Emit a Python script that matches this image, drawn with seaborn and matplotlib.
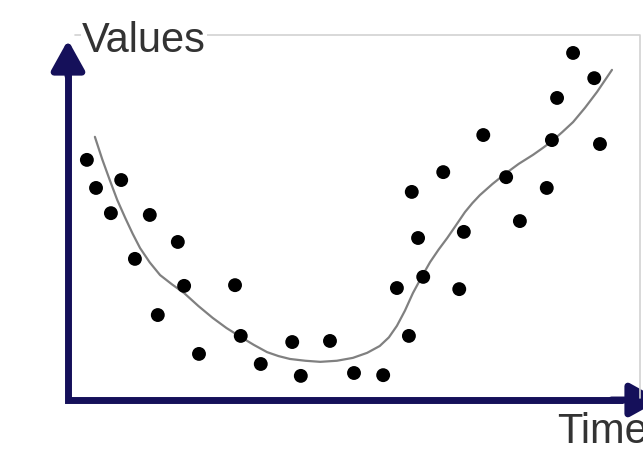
import matplotlib
matplotlib.use('Agg')
import matplotlib.pyplot as plt
from matplotlib.lines import Line2D
import seaborn as sns

# -------------------------------------------------------
# Data (arbitrary units, 0-100)
# -------------------------------------------------------
time_pts  = [3.3, 4.9, 9.3, 7.5, 14.3, 11.7, 19.2, 20.3, 15.7, 29.2,
             22.9, 30.2, 33.7, 39.2, 40.7, 45.8, 50.0, 55.1, 57.5, 59.6,
             60.1, 61.2, 62.1, 65.6, 68.4, 69.2, 72.6, 76.6, 79.0, 83.7,
             84.6, 85.5, 88.3, 92.0, 93.0]
value_pts = [66.7, 58.9, 61.1, 51.9, 51.4, 39.2, 43.9, 31.7, 23.6, 31.9,
             12.8, 17.8, 10.0, 16.1, 6.7, 16.4, 7.5, 6.9, 31.1, 17.8,
             57.8, 45.0, 34.2, 63.3, 30.8, 46.7, 73.6, 61.9, 49.7, 58.9,
             72.2, 83.9, 96.4, 89.4, 71.1]

trend_time  = [4.7, 6.0, 7.3, 8.6, 10.0, 11.3, 12.6, 14.3, 16.1, 18.2,
               20.3, 22.8, 25.3, 27.7, 30.2, 32.5, 34.8, 36.8, 38.8, 41.5,
               44.1, 47.0, 49.8, 52.3, 54.5, 56.1, 57.5, 58.9, 60.3, 61.8,
               63.3, 64.8, 66.3, 67.9, 69.4, 70.7, 72.0, 74.2, 76.4, 78.8,
               81.3, 83.0, 84.6, 86.4, 88.3, 90.4, 92.5, 95.1]
trend_value = [73.1, 66.8, 61.1, 55.6, 50.6, 46.2, 42.2, 38.2, 34.7, 32.1,
               29.7, 26.1, 22.8, 20.0, 17.5, 15.3, 13.3, 12.2, 11.4, 10.9,
               10.6, 10.9, 11.7, 13.1, 15.0, 17.4, 20.6, 24.8, 29.7, 34.1,
               38.3, 41.8, 45.0, 48.7, 52.2, 54.7, 56.9, 60.0, 62.8, 65.6,
               68.1, 70.0, 71.9, 74.4, 77.2, 81.2, 85.6, 91.7]

x_label = 'Time'
y_label = 'Values'

W, H = 643, 450
navy = '#15105a'

sns.set_style('white')
plt.rcParams['font.family'] = ['Liberation Sans', 'DejaVu Sans']

fig = plt.figure(figsize=(W / 100, H / 100), dpi=100)

# light grey frame (top and right edges only)
fig.lines.append(Line2D([75 / W, 640 / W, 640 / W],
                        [1 - 35 / H, 1 - 35 / H, 1 - 398 / H],
                        transform=fig.transFigure, color='#d2d2d2',
                        lw=1.2, zorder=0))

ax = fig.add_axes([68 / W, 1 - 400 / H, 572 / W, 360 / H])
ax.set_facecolor('none')

sns.lineplot(x=trend_time, y=trend_value, sort=False, ax=ax,
             color='#808080', lw=1.6, zorder=2)
sns.scatterplot(x=time_pts, y=value_pts, ax=ax, color='black',
                s=100, edgecolor='none', zorder=3)

ax.set_xlim(0, 100)
ax.set_ylim(0, 100)
ax.set_xticks([]); ax.set_yticks([])
for sp in ax.spines.values():
    sp.set_visible(False)

# axis lines (L shape) and arrow heads
ax.plot([0, 0, 0.97], [0.95, 0, 0], transform=ax.transAxes, color=navy,
        lw=5, solid_joinstyle='miter', solid_capstyle='butt',
        clip_on=False, zorder=4)
arrow_kw = dict(arrowstyle='-|>,head_length=0.9,head_width=0.5',
                color=navy, lw=5, mutation_scale=20, shrinkA=0, shrinkB=0)
ax.annotate('', xy=(0, 1.0), xytext=(0, 0.9), xycoords='axes fraction',
            arrowprops=arrow_kw, annotation_clip=False)
ax.annotate('', xy=(1.035, 0), xytext=(0.95, 0), xycoords='axes fraction',
            arrowprops=arrow_kw, annotation_clip=False)

fig.text(82 / W, 1 - 52 / H, y_label, fontsize=30, color='#333333',
         va='baseline', ha='left',
         bbox=dict(facecolor='white', edgecolor='none', pad=1))
# cut off at the right edge, as in the reference
fig.text(557 / W, 1 - 443 / H, x_label, fontsize=30, color='#333333',
         va='baseline', ha='left')

plt.savefig('out.png', dpi=100)
plt.close()
